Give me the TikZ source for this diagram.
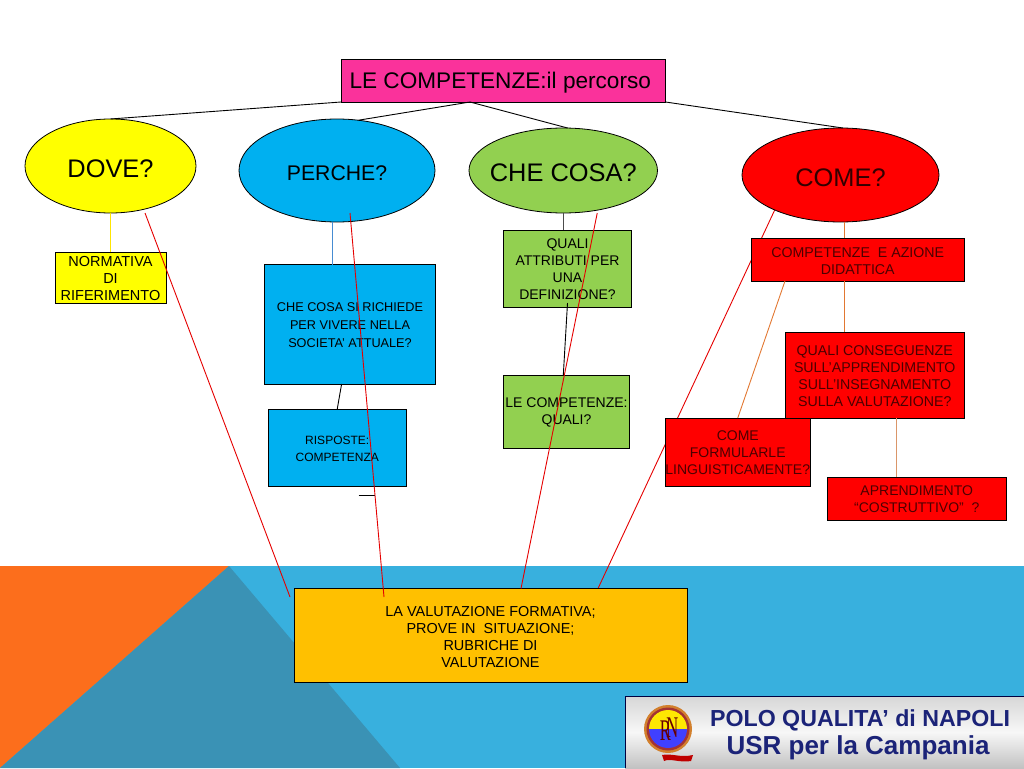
\documentclass[tikz,border=0pt]{standalone}
\usepackage{xcolor}
\usepackage{tikz}
\usepackage{fontspec}
\setmainfont{Liberation Sans}
\newfontfamily\crestfont{Liberation Serif}
\usetikzlibrary{shapes,positioning,calc,backgrounds}
\definecolor{titlepink}{RGB}{250,50,155}
\definecolor{dovecol}{RGB}{255,255,0}
\definecolor{percol}{RGB}{0,176,240}
\definecolor{checol}{RGB}{146,208,80}
\definecolor{comecol}{RGB}{255,0,0}
\definecolor{valcol}{RGB}{255,192,0}
\definecolor{bandblue}{RGB}{56,176,222}
\definecolor{bandorange}{RGB}{252,110,28}
\definecolor{banddark}{RGB}{58,146,181}
\definecolor{logoblue}{RGB}{27,35,120}
\definecolor{orangeln}{RGB}{226,120,50}
\definecolor{tanln}{RGB}{218,150,105}
\definecolor{bluln}{RGB}{70,140,210}
\newcommand{\lnup}{\rule{0pt}{\dimexpr0.72em+2pt}}

\begin{document}
\begin{tikzpicture}[x=1pt,y=-1pt,
  oval/.style={draw,ellipse,inner sep=0pt,outer sep=0pt,line width=0.8pt,execute at begin node={\rule{0pt}{\dimexpr0.72em+4pt}}},
  box/.style={draw,rectangle,inner sep=0pt,outer sep=0pt,align=center,line width=0.8pt,font=\fontsize{14}{17}\selectfont},
  redbox/.style={box,fill=comecol,text=red!30!black},
  conn/.style={line width=0.9pt},
  redln/.style={conn,color=red!90!black}
]
\useasboundingbox (0,0) rectangle (1024,768);

% background band
\begin{pgfonlayer}{background}
\fill[bandblue] (0,566) rectangle (1024,768);
\fill[bandorange] (0,566) -- (229,566) -- (0,768) -- cycle;
\fill[banddark] (229,566) -- (400,768) -- (0,768) -- cycle;
\end{pgfonlayer}

% top row
\node[draw,rectangle,inner sep=0pt,outer sep=0pt,line width=0.8pt,fill=titlepink,minimum width=324.5pt,minimum height=43pt,font=\fontsize{22.6}{27}\selectfont,execute at begin node={\rule{0pt}{\dimexpr0.72em+5pt}}] (title) at (503.25,80.5) {LE COMPETENZE:il percorso\kern6pt};
\node[oval,fill=dovecol,minimum width=171pt,minimum height=94pt,font=\fontsize{25.4}{30}\selectfont] (dove) at (110.5,166) {DOVE?};
\node[oval,fill=percol,minimum width=196pt,minimum height=103pt,font=\fontsize{21.2}{26}\selectfont] (perche) at (337,170.5) {PERCHE?};
\node[oval,fill=checol,inner xsep=-20pt,minimum width=188.5pt,minimum height=85pt,font=\fontsize{25.4}{30}\selectfont] (checosa) at (563.25,170.5) {CHE COSA?};
\node[oval,fill=comecol,text=red!20!black,minimum width=197pt,minimum height=94pt,font=\fontsize{25.4}{30}\selectfont] (come) at (840.5,175) {COME?};

% boxes
\node[box,fill=dovecol,minimum width=111pt,minimum height=51pt,font=\fontsize{14.5}{17}\selectfont] (normativa) at (110.5,277.5) {\lnup NORMATIVA\\DI\\RIFERIMENTO};
\node[box,fill=percol,minimum width=171pt,minimum height=119.5pt,font=\fontsize{12.7}{18}\selectfont] (societa) at (350,324.25) {\lnup CHE COSA SI RICHIEDE\\PER VIVERE NELLA\\SOCIETA’ ATTUALE?};
\node[box,fill=percol,minimum width=137.5pt,minimum height=77pt,font=\fontsize{12}{17.3}\selectfont] (risposte) at (337.25,447.5) {\lnup RISPOSTE:\\COMPETENZA};
\node[box,fill=checol,minimum width=128pt,minimum height=77pt] (attributi) at (567.5,268.5) {\lnup QUALI\\ATTRIBUTI PER\\UNA\\DEFINIZIONE?};
\node[box,fill=checol,minimum width=126pt,minimum height=73pt] (quali) at (566.5,411.5) {\lnup LE COMPETENZE:\\QUALI?};
\node[redbox,minimum width=213.5pt,minimum height=43pt,font=\fontsize{14.2}{17}\selectfont] (azione) at (857.75,259.5) {\lnup COMPETENZE~~E AZIONE\\DIDATTICA};
\node[redbox,minimum width=179.5pt,minimum height=86pt,font=\fontsize{14.2}{17}\selectfont] (conseg) at (874.75,375) {\lnup QUALI CONSEGUENZE\\SULL’APPRENDIMENTO\\SULL’INSEGNAMENTO\\SULLA VALUTAZIONE?};
\node[redbox,minimum width=145.5pt,minimum height=68pt] (formula) at (737.75,452) {\lnup COME\\FORMULARLE\\LINGUISTICAMENTE?};
\node[redbox,minimum width=178.5pt,minimum height=43pt] (apprend) at (916.75,498.5) {\lnup APRENDIMENTO\\“COSTRUTTIVO”~~?};
\node[box,fill=valcol,minimum width=393pt,minimum height=94pt,font=\fontsize{14.45}{17}\selectfont] (val) at (490.5,635.5) {\lnup LA VALUTAZIONE FORMATIVA;\\PROVE IN~~SITUAZIONE;\\RUBRICHE DI~\\VALUTAZIONE};

% loose ends
\coordinate (split) at (470,102);
\coordinate (dashl) at (358.5,495);
\coordinate (dashr) at (375,495);
\coordinate (valw) at ($(val.north west)+(-4,8.5)$);
\coordinate (valin) at ($(val.north west)+(90,8.5)$);
\coordinate (perin) at ($(perche.center)+(13,42.5)$);
\coordinate (dovein) at ($(dove.center)+(34.5,47)$);
\coordinate (chein) at ($(checosa.center)+(34,42.5)$);

% title to ovals
\draw[conn] (title.south west) -- (dove.north);
\draw[conn] (split) -- (perche.67);
\draw[conn] (split) -- (checosa.84);
\draw[conn] (title.south east) -- (come.87);

% oval to boxes
\draw[conn,color=dovecol!80!orange] (dove.south) -- (normativa.north);
\draw[conn,color=bluln] (perche.265.5) -- (perche.265.5 |- societa.north);
\draw[conn] (societa.262) -- (risposte.north);
\draw[conn] (dashl) -- (dashr);
\draw[conn,color=black!70] (checosa.south) -- (checosa.south |- attributi.north);
\draw[conn] ($(attributi.south)+(0,-4)$) -- (quali.95);
\draw[conn,color=orangeln] (come.-85) -- (come.-85 |- azione.north);
\draw[conn,color=orangeln] (come.-85 |- azione.south) -- (come.-85 |- conseg.north);
\draw[conn,color=orangeln] (conseg.north west |- azione.south) -- (formula.north);
\draw[conn,color=tanln] (conseg.-63.7) -- (conseg.-63.7 |- apprend.north);

% red lines to the valutazione box
\begin{pgfonlayer}{background}
\draw[redln] (come.208) -- ($(val.north west)+(304,0)$);
\end{pgfonlayer}
\draw[redln] (dovein) -- (valw);
\draw[redln] (perin) -- (valin);
\draw[redln] (chein) -- ($(val.north west)+(227,0)$);

% logo
\shade[top color=black!16,bottom color=black!24,middle color=black!3] (625,696) rectangle (1024,768);
\draw[color=black!75!blue,line width=1pt] (625,768) -- (625,696) -- (1024,696);
\fill[red!75!black] (662,755) .. controls (672,753) and (680,758) .. (693,755) -- (691,761) .. controls (680,763) and (670,758) .. (664,761) -- cycle;
\fill[color=brown!70!orange] (668,729) circle (24);
\fill[color=red!55!black!80] (668,729) circle (21.5);
\fill[color=yellow!90!orange] (649,729) arc[start angle=180,end angle=360,radius=19] -- cycle;
\fill[color=blue!75!white] (649,729) arc[start angle=180,end angle=0,radius=19] -- cycle;
\node[inner sep=0pt,color=red!40!black,font=\crestfont\fontsize{30}{30}\selectfont] (crest) at (669,729) {\scalebox{0.55}[1]{R\kern-8pt\raisebox{3pt}{N}}};
\node[inner sep=0pt,color=logoblue,font=\bfseries\fontsize{23.2}{26}\selectfont] (polo) at (860,720) {POLO QUALITA\symbol{39} di NAPOLI};
\node[inner sep=0pt,color=logoblue,font=\bfseries\fontsize{26}{30}\selectfont] (usr) at (858,748) {USR per la Campania};
\end{tikzpicture}
\end{document}
